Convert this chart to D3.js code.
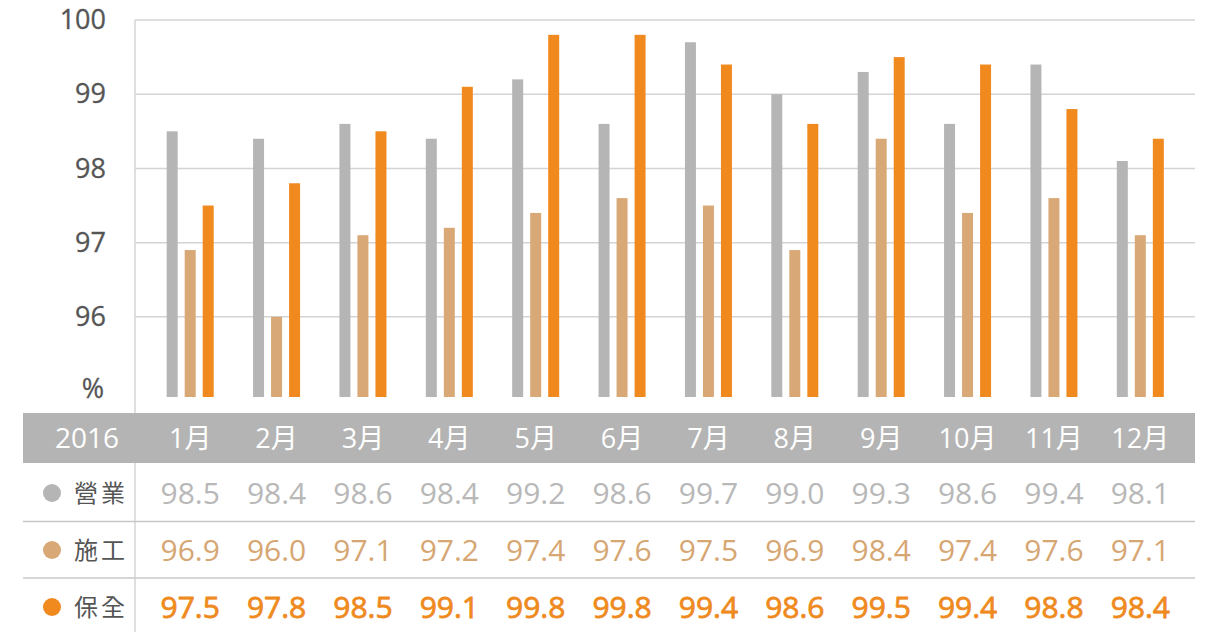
<!DOCTYPE html>
<html>
<head>
<meta charset="utf-8">
<script src="https://cdn.jsdelivr.net/npm/d3@7"></script>
<style>
  html, body { margin: 0; padding: 0; background: #fff; }
  svg { display: block; }
  text { font-family: "Open Sans", "Noto Sans CJK TC", sans-serif; }
</style>
</head>
<body>
<svg id="chart" width="1208" height="632"></svg>
<script>
// Monthly satisfaction rates (%) for 2016
const year = "2016";
const months = ["1月","2月","3月","4月","5月","6月","7月","8月","9月","10月","11月","12月"];
const seriesNames = ["營業","施工","保全"];
const sales   = [98.5, 98.4, 98.6, 98.4, 99.2, 98.6, 99.7, 99.0, 99.3, 98.6, 99.4, 98.1];
const build   = [96.9, 96.0, 97.1, 97.2, 97.4, 97.6, 97.5, 96.9, 98.4, 97.4, 97.6, 97.1];
const secure  = [97.5, 97.8, 98.5, 99.1, 99.8, 99.8, 99.4, 98.6, 99.5, 99.4, 98.8, 98.4];
const yTicks  = [96, 97, 98, 99, 100];
const yBase   = 94.92;

const seriesValues = [sales, build, secure];
const colors = ["#b5b5b5", "#d8a876", "#f0891e"];
const textColors = ["#b8b8b8", "#d6a673", "#ef8a1f"];

const svg = d3.select("#chart");
const plotLeft = 135, plotRight = 1195;
const tableLeft = 23;

const x = d3.scaleBand().domain(months).range([147, 1183.5]).padding(0);
const xInner = d3.scaleBand().domain(seriesNames).range([-23.5, 23.5]).paddingInner(0.39).paddingOuter(0);
const y = d3.scaleLinear().domain([yBase, 100]).range([397, 20]);

// horizontal gridlines
svg.append("g").selectAll("line").data(yTicks).join("line")
  .attr("x1", plotLeft).attr("x2", plotRight)
  .attr("y1", d => y(d)).attr("y2", d => y(d))
  .attr("stroke", "#d4d4d4").attr("stroke-width", 1.5);

// y-axis tick labels
const yAxis = d3.axisLeft(y).tickValues(yTicks).tickSize(0).tickPadding(0).tickFormat(d3.format("d"));
const yg = svg.append("g").attr("transform", "translate(106,0)").call(yAxis);
yg.select(".domain").remove();
yg.selectAll("text").attr("font-size", 27).attr("fill", "#555")
  .attr("stroke", "#555").attr("stroke-width", 0.3)
  .attr("font-family", "'Open Sans', sans-serif");

svg.append("text").attr("x", 104).attr("y", y(95) + 7)
  .attr("text-anchor", "end").attr("font-size", 27).attr("fill", "#555")
  .attr("stroke", "#555").attr("stroke-width", 0.3).text("%");

// bars
const groups = svg.append("g").selectAll("g").data(months).join("g")
  .attr("transform", d => `translate(${x(d) + x.bandwidth() / 2},0)`);
groups.selectAll("rect")
  .data((m, i) => seriesNames.map((s, k) => ({ s, k, v: seriesValues[k][i] })))
  .join("rect")
  .attr("x", d => xInner(d.s))
  .attr("width", xInner.bandwidth())
  .attr("y", d => y(d.v))
  .attr("height", d => y(yBase) - y(d.v))
  .attr("fill", d => colors[d.k]);

// table header band
const headTop = 413, headBottom = 463;
svg.append("rect").attr("x", tableLeft).attr("y", headTop)
  .attr("width", plotRight - tableLeft).attr("height", headBottom - headTop)
  .attr("fill", "#b4b4b4");

// vertical divider between labels and plot/table
svg.append("line").attr("x1", plotLeft).attr("x2", plotLeft)
  .attr("y1", y(100)).attr("y2", headTop).attr("stroke", "#d4d4d4").attr("stroke-width", 1.5);
svg.append("line").attr("x1", plotLeft).attr("x2", plotLeft)
  .attr("y1", headBottom).attr("y2", 632).attr("stroke", "#d4d4d4").attr("stroke-width", 1.5);

const headMid = (headTop + headBottom) / 2;
svg.append("text").attr("x", 87).attr("y", headMid).attr("dy", "0.36em")
  .attr("text-anchor", "middle").attr("font-size", 28).attr("fill", "#fff").text(year);
svg.append("g").selectAll("text").data(months).join("text")
  .attr("x", d => x(d) + x.bandwidth() / 2).attr("y", headMid).attr("dy", "0.36em")
  .attr("text-anchor", "middle").attr("font-size", 27).attr("fill", "#fff")
  .attr("font-family", "'Open Sans', 'Noto Sans CJK TC', sans-serif")
  .text(d => d);

// table rows
const rowMid = [493, 550, 607];
const rowDividers = [521.5, 578];
svg.append("g").selectAll("line").data(rowDividers).join("line")
  .attr("x1", tableLeft).attr("x2", plotRight)
  .attr("y1", d => d).attr("y2", d => d)
  .attr("stroke", "#c8c8c8").attr("stroke-width", 1.5);

seriesNames.forEach((name, k) => {
  const row = svg.append("g");
  row.append("circle").attr("cx", 52).attr("cy", rowMid[k]).attr("r", 9).attr("fill", colors[k]);
  row.append("text").attr("x", 74).attr("y", rowMid[k]).attr("dy", "0.36em")
    .attr("font-size", 24).attr("letter-spacing", 3).attr("fill", "#555")
    .attr("font-family", "'Noto Sans CJK TC', sans-serif")
    .text(name);
  row.selectAll("text.v").data(seriesValues[k]).join("text")
    .attr("class", "v")
    .attr("x", (d, i) => x(months[i]) + x.bandwidth() / 2)
    .attr("y", rowMid[k]).attr("dy", "0.36em")
    .attr("text-anchor", "middle").attr("font-size", 30)
    .attr("fill", textColors[k])
    .attr("stroke", k === 2 ? textColors[k] : "none")
    .attr("stroke-width", k === 2 ? 0.8 : 0)
    .text(d => d.toFixed(1));
});
</script>
</body>
</html>
